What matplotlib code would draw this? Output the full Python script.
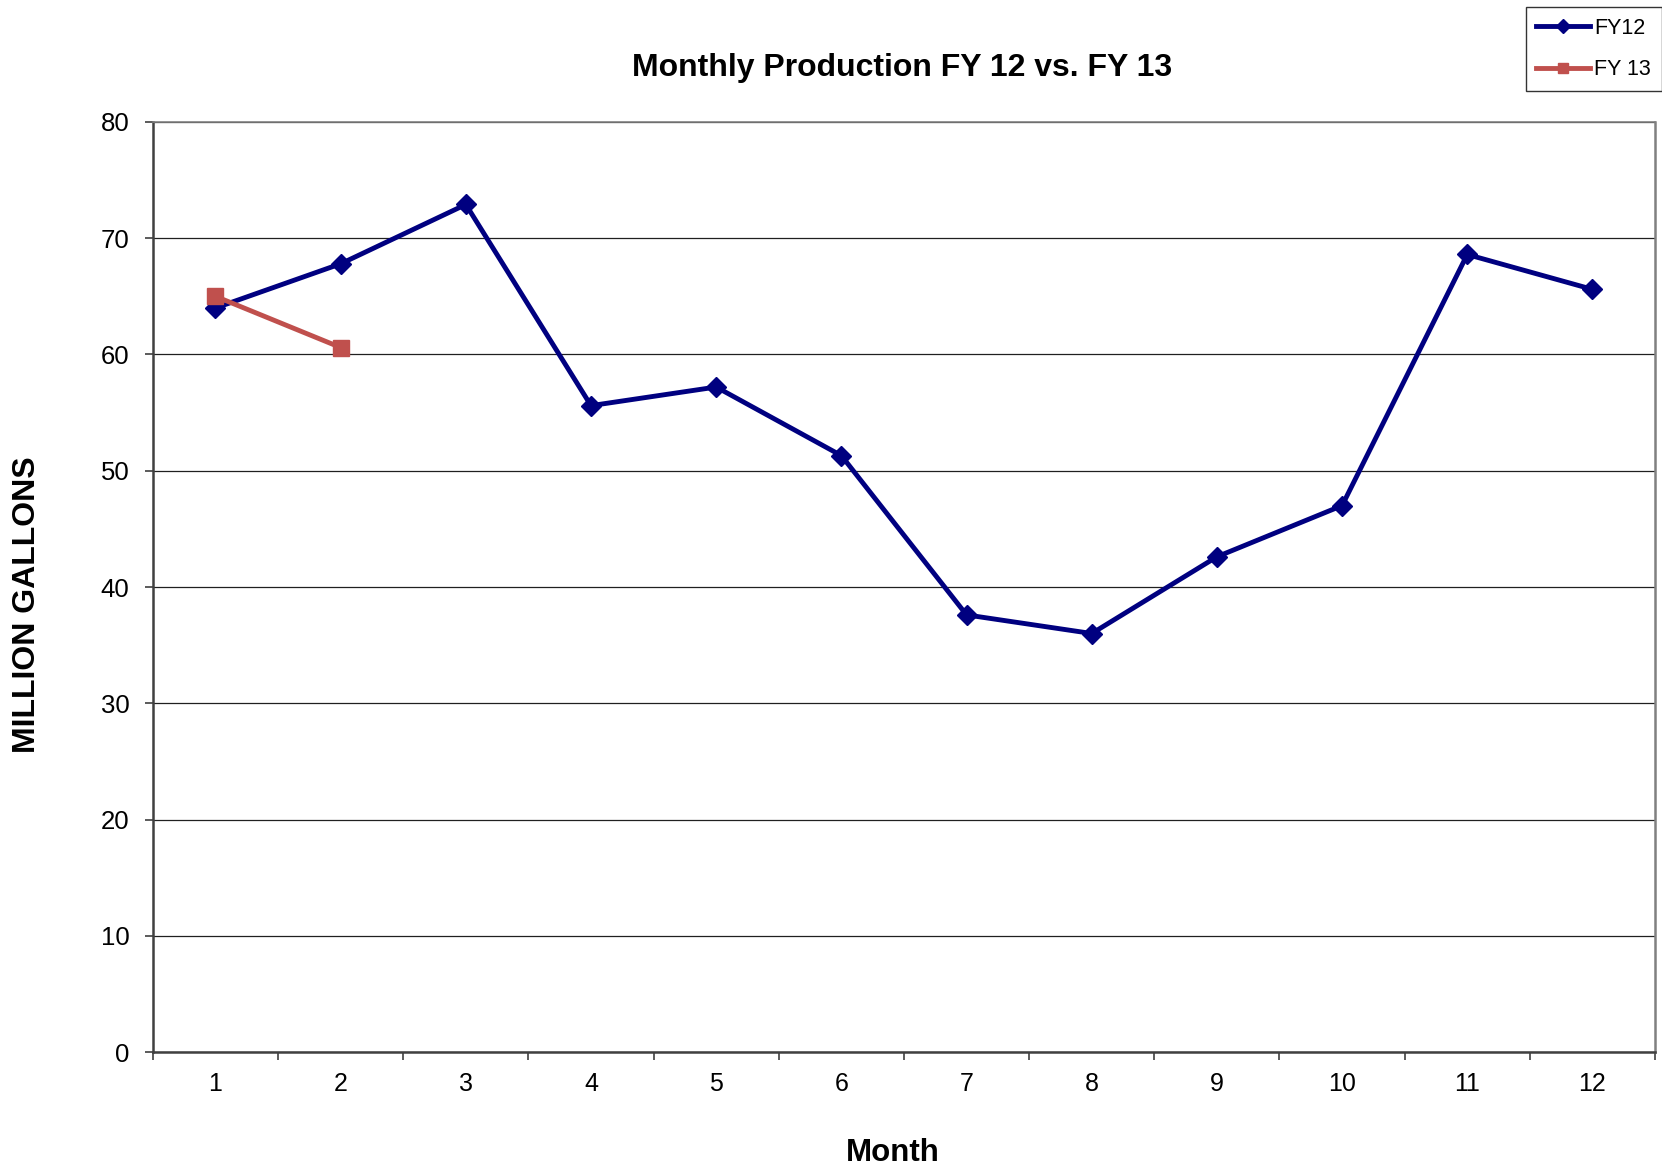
import matplotlib
matplotlib.use("Agg")
import matplotlib.pyplot as plt
from matplotlib.ticker import MultipleLocator, FixedLocator

plt.rcParams['font.family'] = ['Liberation Sans', 'DejaVu Sans']

months = [1, 2, 3, 4, 5, 6, 7, 8, 9, 10, 11, 12]
fy12 = [64.0, 67.8, 72.9, 55.6, 57.2, 51.3, 37.6, 36.0, 42.6, 47.0, 68.6, 65.6]
fy13_months = [1, 2]
fy13 = [65.0, 60.6]

fig = plt.figure(figsize=(16.62, 11.67), dpi=100)
ax = fig.add_axes([0.092, 0.0985, 0.9038, 0.797])

ax.plot(months, fy12, color='#000080', lw=3.5, marker='D', markersize=10,
        label='FY12', zorder=3)
ax.plot(fy13_months, fy13, color='#C0504D', lw=3.5, marker='s', markersize=11,
        label='FY 13', zorder=4)

ax.set_xlim(0.5, 12.5)
ax.set_ylim(0, 80)
ax.yaxis.set_major_locator(MultipleLocator(10))
ax.set_xticks(months)
ax.xaxis.set_minor_locator(FixedLocator([m + 0.5 for m in range(0, 13)]))
ax.tick_params(axis='x', which='major', length=0, pad=14.5, labelsize=18)
ax.tick_params(axis='x', which='minor', length=6, width=1.2, color='#404040',
               direction='out')
ax.tick_params(axis='y', which='major', length=6, width=1.2, color='#404040',
               direction='out', labelsize=18.5, pad=11)

ax.grid(axis='y', color='#202020', lw=0.9)
ax.set_axisbelow(True)
for side in ['left', 'bottom']:
    ax.spines[side].set_color('#404040')
    ax.spines[side].set_linewidth(1.8)
ax.spines['right'].set_color('#808080')
ax.spines['right'].set_linewidth(1.8)
ax.spines['top'].set_color('#808080')
ax.spines['top'].set_linewidth(1.2)

fig.text(0.537, 0.0119, 'Month', fontsize=22.5, fontweight='bold',
         ha='center', va='center')
fig.text(0.0163, 0.4816, 'MILLION GALLONS', fontsize=23, fontweight='bold',
         ha='center', va='center', rotation=90)
fig.text(0.543, 0.942, 'Monthly Production FY 12 vs. FY 13', fontsize=23,
         fontweight='bold', ha='center', va='center')

leg = fig.legend(loc='upper right', bbox_to_anchor=(1.0, 0.994), fontsize=15.5,
                 frameon=True, fancybox=False, edgecolor='#000000',
                 handlelength=2.5, borderpad=0.5, labelspacing=0.95,
                 handletextpad=0.2, borderaxespad=0.0)
leg.get_frame().set_linewidth(1.0)
for h in leg.legend_handles:
    h.set_markersize(7)

fig.savefig('out.png', dpi=100, facecolor='white')
